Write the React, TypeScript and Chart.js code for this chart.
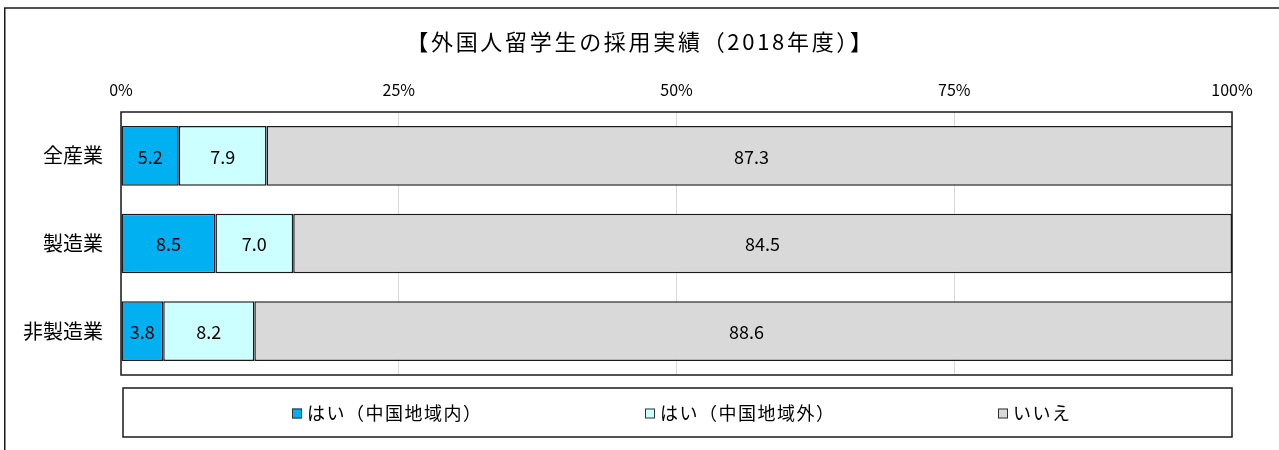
import { useEffect, useRef } from 'react';
import { Chart, registerables } from 'chart.js';

Chart.register(...registerables);

const titleText = '【外国人留学生の採用実績（2018年度）】';
const categories = ['全産業', '製造業', '非製造業'];
const seriesLabels = ['はい（中国地域内）', 'はい（中国地域外）', 'いいえ'];
const yesInside = [5.2, 8.5, 3.8];
const yesOutside = [7.9, 7.0, 8.2];
const noValues = [87.3, 84.5, 88.6];
const seriesColors = ['#00B0F0', '#CCFFFF', '#D9D9D9'];
const xMin = 0;
const xMax = 100;
const xStep = 25;

const FONT = "'Noto Sans CJK JP', 'Noto Sans', sans-serif";

const framePlugin = {
  id: 'outerFrame',
  beforeDraw(chart: any) {
    const ctx = chart.ctx;
    ctx.save();
    ctx.fillStyle = '#fff';
    ctx.fillRect(0, 0, chart.width, chart.height);
    ctx.strokeStyle = '#1a1a1a';
    ctx.lineWidth = 1.5;
    ctx.strokeRect(4.75, 8, chart.width + 50, chart.height + 50);
    // title, centred on the full canvas width
    ctx.font = `22px ${FONT}`;
    (ctx as any).letterSpacing = '2.7px';
    ctx.fillStyle = '#000';
    ctx.textAlign = 'center';
    ctx.textBaseline = 'middle';
    ctx.fillText(titleText, chart.width / 2 + 1, 42);
    ctx.restore();
  },
};

const plotBorderPlugin = {
  id: 'plotBorder',
  afterDatasetsDraw(chart: any) {
    const { ctx, chartArea: ca } = chart;
    ctx.save();
    ctx.strokeStyle = '#1a1a1a';
    ctx.lineWidth = 1.5;
    ctx.strokeRect(ca.left, ca.top, ca.right - ca.left, ca.bottom - ca.top);
    ctx.restore();
  },
};

const dataLabelPlugin = {
  id: 'dataLabels',
  afterDatasetsDraw(chart: any) {
    const ctx = chart.ctx;
    ctx.save();
    ctx.font = `18px ${FONT}`;
    ctx.fillStyle = '#000';
    ctx.textAlign = 'center';
    ctx.textBaseline = 'middle';
    chart.data.datasets.forEach((ds: any, di: number) => {
      const meta = chart.getDatasetMeta(di);
      meta.data.forEach((bar: any, i: number) => {
        const v = ds.data[i];
        const x = (bar.x + bar.base) / 2;
        ctx.fillText(Number(v).toFixed(1), x, bar.y + 1);
      });
    });
    ctx.restore();
  },
};

const legendBoxPlugin = {
  id: 'legendBox',
  afterDraw(chart: any) {
    const { ctx, chartArea: ca } = chart;
    const bx = ca.left + 2;
    const by = ca.bottom + 13;
    const bw = ca.right - bx;
    const bh = 49;
    ctx.save();
    ctx.strokeStyle = '#1a1a1a';
    ctx.lineWidth = 1.5;
    ctx.strokeRect(bx, by, bw, bh);
    const start = bx + bw * 0.1524;
    const colW = bw * 0.3183;
    const cy = by + bh / 2 + 1;
    ctx.font = `18px ${FONT}`;
    (ctx as any).letterSpacing = '1.5px';
    ctx.textBaseline = 'middle';
    ctx.textAlign = 'left';
    chart.data.datasets.forEach((ds: any, i: number) => {
      const x = Math.round(start + colW * i);
      ctx.fillStyle = ds.backgroundColor;
      ctx.fillRect(x, cy - 5, 10, 10);
      ctx.strokeStyle = '#333';
      ctx.lineWidth = 1;
      ctx.strokeRect(x + 0.5, cy - 4.5, 9, 9);
      ctx.fillStyle = '#000';
      ctx.fillText(ds.label, x + 15, cy);
    });
    ctx.restore();
  },
};

export default function App() {
  const canvasRef = useRef<HTMLCanvasElement | null>(null);

  useEffect(() => {
    document.body.style.margin = '0';
    const canvas = canvasRef.current;
    if (!canvas) return;
    const seriesValues = [yesInside, yesOutside, noValues];
    const chart = new Chart(canvas, {
      type: 'bar',
      data: {
        labels: categories,
        datasets: seriesLabels.map((label, i) => ({
          label,
          data: seriesValues[i],
          backgroundColor: seriesColors[i],
          borderColor: '#1a1a1a',
          borderWidth: 1.5,
          borderSkipped: false,
          barPercentage: 0.68,
          categoryPercentage: 1,
        })),
      },
      options: {
        indexAxis: 'y',
        responsive: true,
        maintainAspectRatio: false,
        animation: false,
        layout: { padding: { left: 0, right: 47, top: 66, bottom: 75 } },
        plugins: {
          legend: { display: false },
          tooltip: { enabled: false },
          title: { display: false },
        },
        scales: {
          x: {
            position: 'top',
            stacked: true,
            min: xMin,
            max: xMax,
            ticks: {
              stepSize: xStep,
              color: '#000',
              font: { family: FONT, size: 16 },
              padding: 12,
              callback: (v: any) => `${v}%`,
            },
            grid: { color: '#d9d9d9', lineWidth: 1, drawTicks: false },
            border: { display: false },
            afterFit: (s: any) => {
              s.height = 46;
            },
          },
          y: {
            stacked: true,
            ticks: {
              color: '#000',
              font: { family: FONT, size: 20 },
              padding: 18,
            },
            grid: { display: false, drawTicks: false },
            border: { display: false },
            afterFit: (s: any) => {
              s.width = 121;
            },
          },
        },
      },
      plugins: [framePlugin, plotBorderPlugin, dataLabelPlugin, legendBoxPlugin],
    });
    return () => chart.destroy();
  }, []);

  return (
    <div style={{ position: 'relative', width: 1279, height: 450 }}>
      <canvas ref={canvasRef} />
    </div>
  );
}
